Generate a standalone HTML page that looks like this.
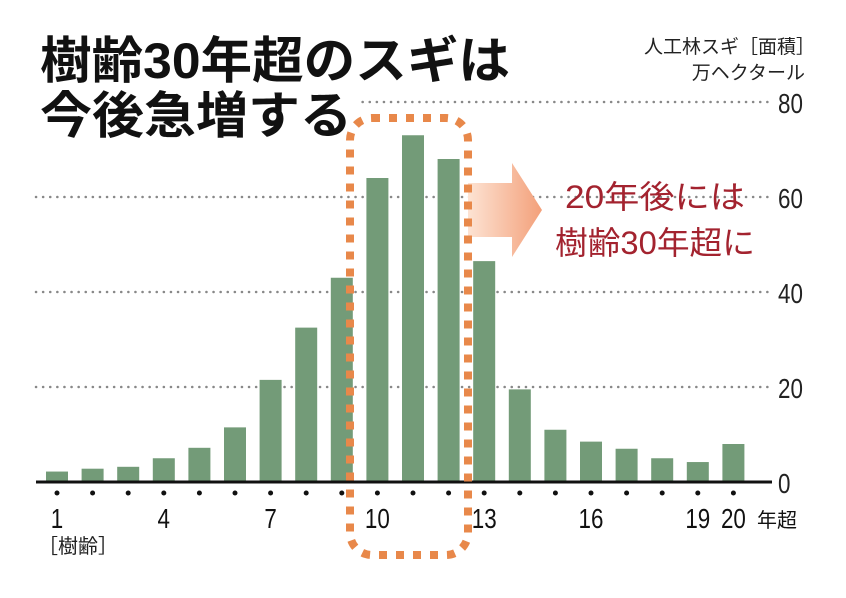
<!DOCTYPE html>
<html><head><meta charset="utf-8"><style>
body{margin:0;background:#fff;}
svg text{font-family:"Liberation Sans","Noto Sans CJK JP",sans-serif;}
</style></head><body>
<svg width="846" height="593" viewBox="0 0 846 593">
<defs><linearGradient id="ag" x1="0" x2="1"><stop offset="0" stop-color="#fde3d3"/><stop offset="1" stop-color="#f3a07a"/></linearGradient></defs>
<g id="grid"></g>
<rect x="30" y="85" width="330" height="55" fill="#fff"/>
<text x="40" y="78" font-size="50" font-weight="bold" fill="#111" textLength="470" lengthAdjust="spacingAndGlyphs">樹齢30年超のスギは</text>
<text x="40" y="133" font-size="50" font-weight="bold" fill="#111" textLength="312" lengthAdjust="spacingAndGlyphs">今後急増する</text>
<text x="815" y="53" font-size="19" text-anchor="end" fill="#222">人工林スギ［面積］</text>
<text x="805" y="79" font-size="19" text-anchor="end" fill="#222">万ヘクタール</text>
<g id="bars"></g>
<g id="xaxis"></g>
<path d="M468 183 H512 V163 L542 210 L512 257 V237 H468 Z" fill="url(#ag)"/>
<rect x="350" y="118" width="118" height="437" rx="22" fill="none" stroke="#e8884a" stroke-width="8" stroke-dasharray="8 9"/>
<text x="655" y="208" font-size="32" text-anchor="middle" fill="#a3232f" textLength="180" lengthAdjust="spacingAndGlyphs">20年後には</text>
<text x="655" y="254" font-size="32" text-anchor="middle" fill="#a3232f" textLength="200" lengthAdjust="spacingAndGlyphs">樹齢30年超に</text>
<text x="38" y="553" font-size="20" fill="#222">［樹齢］</text>
</svg>
<script>
const categories=[1,2,3,4,5,6,7,8,9,10,11,12,13,14,15,16,17,18,19,20];
const values=[2.2,2.8,3.2,5,7.2,11.5,21.5,32.5,43,64,73,68,46.5,19.5,11,8.5,7,5,4.2,8];
const yTicks=[0,20,40,60,80];
const xLabels=["1","","","4","","","7","","","10","","","13","","","16","","","19","20"];
const NS="http://www.w3.org/2000/svg";
const y=v=>482-v*4.75;
const x=i=>57+i*35.6;
function mk(t,a,p){const e=document.createElementNS(NS,t);for(const k in a)e.setAttribute(k,a[k]);p.appendChild(e);return e;}
const g=document.getElementById('grid');
yTicks.forEach(t=>{
 if(t>0){const l=mk('line',{x1:36,x2:770,y1:y(t),y2:y(t),stroke:'#888','stroke-width':2.5,'stroke-dasharray':'0.1 7','stroke-linecap':'round'},g);
 
 }
 const tx=mk('text',{x:778,y:y(t)+11,'font-size':28,fill:'#222',transform:'translate(778,0) scale(0.8,1) translate(-778,0)'},g);tx.textContent=t;
 
 
});
const b=document.getElementById('bars');
values.forEach((v,i)=>{
 const r=mk('rect',{x:x(i)-11,y:y(v),width:22,height:482-y(v),fill:'#739b78'},b);
 
 
});
const xa=document.getElementById('xaxis');
const bl=mk('line',{x1:36,x2:772,y1:482,y2:482,stroke:'#111','stroke-width':3},xa);


categories.forEach((c,i)=>{
 const d=mk('circle',{cx:x(i),cy:493,r:2.5,fill:'#111'},xa);
 
 
 if(xLabels[i]){const cx=x(i);const t=mk('text',{x:cx,y:528,'font-size':28,'text-anchor':'middle',fill:'#111',transform:'translate('+cx+',0) scale(0.8,1) translate('+(-cx)+',0)'},xa);t.textContent=xLabels[i];
 
 }
});
const s=mk('text',{x:757,y:527,'font-size':20,fill:'#111'},xa);s.textContent='年超';


</script>
</body></html>
